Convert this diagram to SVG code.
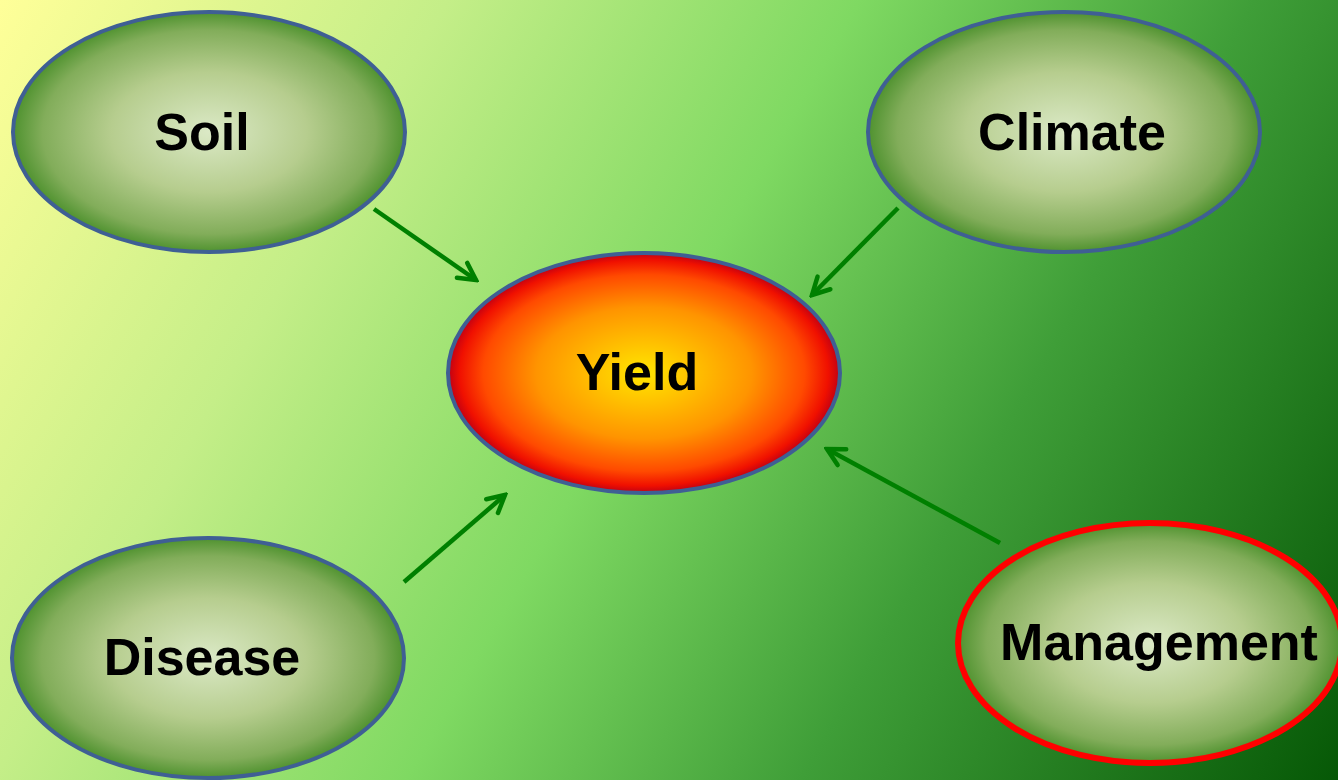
<svg xmlns="http://www.w3.org/2000/svg" width="1338" height="780" viewBox="0 0 1338 780">
<defs>
<linearGradient id="bg" x1="0" y1="0" x2="1338" y2="780" gradientUnits="userSpaceOnUse">
<stop offset="0" stop-color="#ffff99"/>
<stop offset="0.25" stop-color="#c4ee88"/>
<stop offset="0.48" stop-color="#7fd962"/>
<stop offset="0.7" stop-color="#3f9e38"/>
<stop offset="1" stop-color="#065806"/>
</linearGradient>
<radialGradient id="node" cx="0.5" cy="0.5" r="0.5">
<stop offset="0" stop-color="#dbe9c6"/>
<stop offset="0.5" stop-color="#b6cd8e"/>
<stop offset="0.85" stop-color="#82ad5a"/>
<stop offset="1" stop-color="#4f922f"/>
</radialGradient>
<radialGradient id="yield" cx="0.5" cy="0.5" r="0.5">
<stop offset="0" stop-color="#ffe600"/>
<stop offset="0.55" stop-color="#ff9400"/>
<stop offset="0.82" stop-color="#ff4a00"/>
<stop offset="0.94" stop-color="#f01000"/>
<stop offset="1" stop-color="#c00014"/>
</radialGradient>
<marker id="ah" viewBox="0 0 24 24" refX="21" refY="12" markerWidth="24" markerHeight="24" markerUnits="userSpaceOnUse" orient="auto">
<path d="M4,3 L21,12 L4,21" fill="none" stroke="#008000" stroke-width="4.5" stroke-linecap="round" stroke-linejoin="miter"/>
</marker>
<style>
.n{fill:url(#node);stroke:#3f5f94;stroke-width:4}
.t{font-family:"Liberation Sans",Arial,sans-serif;font-weight:bold;font-size:52px;fill:#000;text-anchor:middle}
.c{stroke:#008000;stroke-width:4.5;fill:none;marker-end:url(#ah)}
</style>
</defs>
<rect width="1338" height="780" fill="url(#bg)"/>
<g id="connectors">
<line class="c" x1="374" y1="209" x2="476" y2="280"/>
<line class="c" x1="898" y1="208" x2="812" y2="295"/>
<line class="c" x1="404" y1="582" x2="505" y2="495"/>
<line class="c" x1="1000" y1="543" x2="827" y2="449"/>
</g>
<g id="soil">
<ellipse class="n" cx="209" cy="132" rx="196" ry="120"/>
<text class="t" x="202" y="150">Soil</text>
</g>
<g id="climate">
<ellipse class="n" cx="1064" cy="132" rx="196" ry="120"/>
<text class="t" x="1072" y="150">Climate</text>
</g>
<g id="yield-node">
<ellipse cx="644" cy="373" rx="196" ry="120" fill="url(#yield)" stroke="#3f5f94" stroke-width="4"/>
<text class="t" x="637" y="390">Yield</text>
</g>
<g id="disease">
<ellipse class="n" cx="208" cy="658" rx="196" ry="120"/>
<text class="t" x="202" y="675">Disease</text>
</g>
<g id="management">
<ellipse cx="1150" cy="643" rx="192" ry="120" fill="url(#node)" stroke="#ff0000" stroke-width="6"/>
<text class="t" x="1159" y="660">Management</text>
</g>
</svg>
